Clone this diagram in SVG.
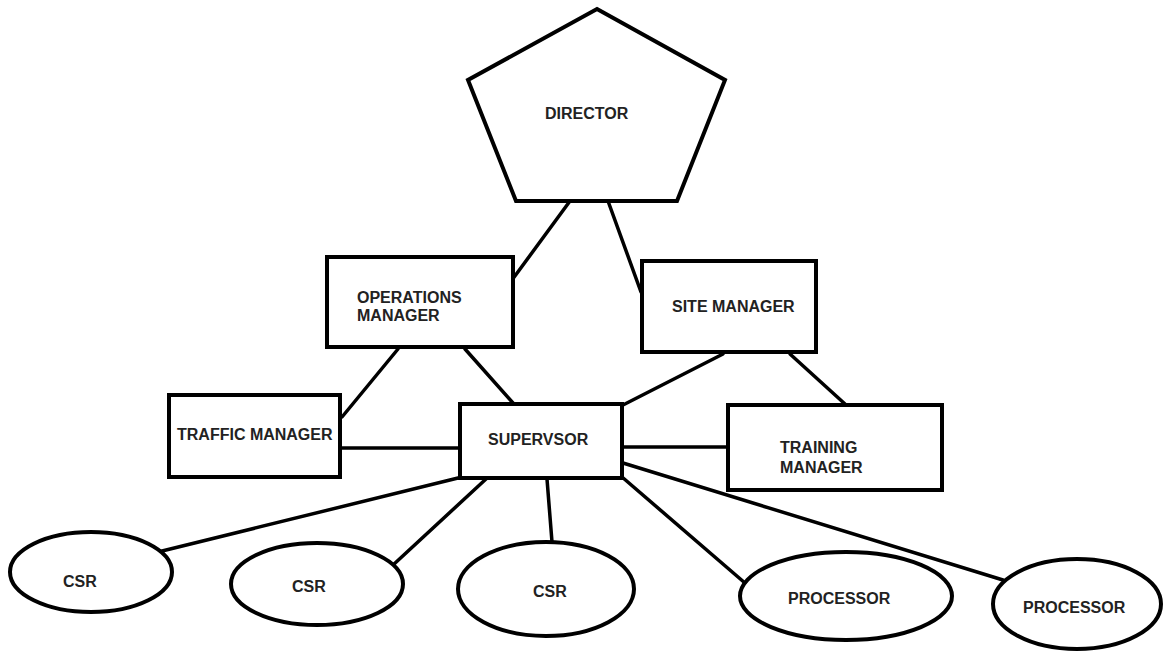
<svg xmlns="http://www.w3.org/2000/svg" width="1164" height="653" viewBox="0 0 1164 653">
<style>
.s{fill:#fff;stroke:#000;stroke-width:4;stroke-linejoin:miter}
.t{font-family:"Liberation Sans",Arial,sans-serif;font-weight:bold;font-size:16px;fill:#222}
.c line{stroke:#000;stroke-width:3.5;stroke-linecap:round}
</style>
<rect width="1164" height="653" fill="#fff"/>
<g id="connectors" class="c">
<line x1="570" y1="201" x2="512" y2="280"/>
<line x1="608" y1="201" x2="641" y2="292"/>
<line x1="398" y1="349" x2="342" y2="417"/>
<line x1="465" y1="349" x2="513" y2="403"/>
<line x1="723" y1="354" x2="623" y2="405"/>
<line x1="790" y1="354" x2="845" y2="404"/>
<line x1="340" y1="448" x2="461" y2="448"/>
<line x1="622" y1="447" x2="730" y2="447"/>
<line x1="458" y1="478" x2="158" y2="552"/>
<line x1="486" y1="479" x2="393" y2="565"/>
<line x1="547" y1="479" x2="552" y2="542"/>
<line x1="622" y1="477" x2="745" y2="583"/>
<line x1="623" y1="463" x2="1003" y2="580"/>
</g>
<g id="director">
<polygon class="s" points="597,9 725,80 677,201 516,201 468,80"/>
<text class="t" x="545" y="119">DIRECTOR</text>
</g>
<g id="operations-manager">
<rect class="s" x="327" y="257" width="186" height="90"/>
<text class="t" x="357" y="303">OPERATIONS</text>
<text class="t" x="357" y="321">MANAGER</text>
</g>
<g id="site-manager">
<rect class="s" x="642" y="261" width="174" height="91"/>
<text class="t" x="672" y="312">SITE MANAGER</text>
</g>
<g id="traffic-manager">
<rect class="s" x="169" y="395" width="171" height="82"/>
<text class="t" x="177" y="440">TRAFFIC MANAGER</text>
</g>
<g id="supervisor">
<rect class="s" x="460" y="404" width="162" height="74"/>
<text class="t" x="488" y="445">SUPERVSOR</text>
</g>
<g id="training-manager">
<rect class="s" x="728" y="405" width="214" height="85"/>
<text class="t" x="780" y="453">TRAINING</text>
<text class="t" x="780" y="473">MANAGER</text>
</g>
<g id="csr1">
<ellipse class="s" cx="91" cy="572" rx="81" ry="40"/>
<text class="t" x="63" y="587">CSR</text>
</g>
<g id="csr2">
<ellipse class="s" cx="317" cy="584" rx="86" ry="41"/>
<text class="t" x="292" y="592">CSR</text>
</g>
<g id="csr3">
<ellipse class="s" cx="546" cy="589" rx="88" ry="47"/>
<text class="t" x="533" y="597">CSR</text>
</g>
<g id="processor1">
<ellipse class="s" cx="846" cy="596" rx="106" ry="44"/>
<text class="t" x="788" y="604">PROCESSOR</text>
</g>
<g id="processor2">
<ellipse class="s" cx="1077" cy="604" rx="84" ry="45"/>
<text class="t" x="1023" y="613">PROCESSOR</text>
</g>
</svg>
